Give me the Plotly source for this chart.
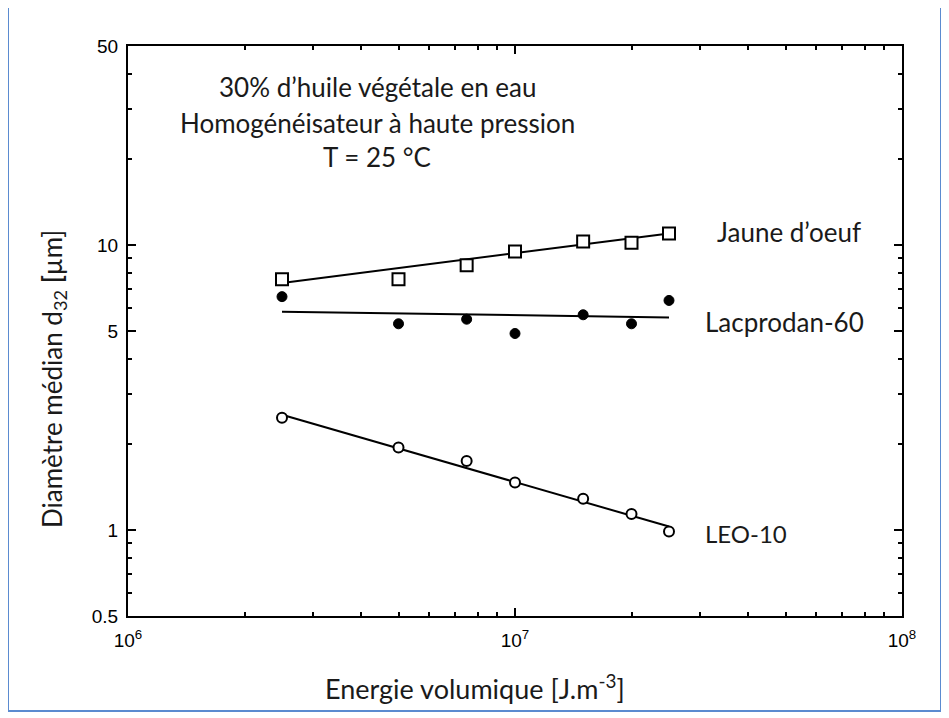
import plotly.graph_objects as go

# ---- data ----
energie = [2.5e6, 5e6, 7.5e6, 1e7, 1.5e7, 2e7, 2.5e7]
jaune = [7.6, 7.6, 8.5, 9.5, 10.3, 10.2, 11.0]
lacprodan = [6.6, 5.3, 5.5, 4.9, 5.7, 5.3, 6.4]
leo = [2.48, 1.95, 1.75, 1.47, 1.29, 1.14, 0.99]

fit_x = [2.5e6, 2.5e7]
jaune_fit = [7.37, 11.0]
lacprodan_fit = [5.84, 5.58]
leo_fit = [2.54, 1.03]

y_ticks = [0.5, 1, 5, 10, 50]
y_ticktext = ["0.5", "1", "5", "10", "50"]
x_ticks = [1e6, 1e7, 1e8]
x_ticktext = ["10<sup>6</sup>", "10<sup>7</sup>", "10<sup>8</sup>"]

title_lines = ["30% d’huile végétale en eau",
               "Homogénéisateur à haute pression",
               "T = 25 °C"]
series_labels = ["Jaune d’oeuf", "Lacprodan-60", "LEO-10"]

TXT = "Lato"
TXT_COLOR = "#1a1a1a"

fig = go.Figure()

line_style = dict(color="black", width=2)
for fy in (jaune_fit, lacprodan_fit, leo_fit):
    fig.add_trace(go.Scatter(x=fit_x, y=fy, mode="lines", line=line_style,
                             showlegend=False, hoverinfo="skip"))

fig.add_trace(go.Scatter(x=energie, y=jaune, mode="markers", showlegend=False,
                         marker=dict(symbol="square", size=12, color="white",
                                     line=dict(color="black", width=2))))
fig.add_trace(go.Scatter(x=energie, y=lacprodan, mode="markers", showlegend=False,
                         marker=dict(symbol="circle", size=10, color="black",
                                     line=dict(color="black", width=1))))
fig.add_trace(go.Scatter(x=energie, y=leo, mode="markers", showlegend=False,
                         marker=dict(symbol="circle", size=10, color="white",
                                     line=dict(color="black", width=2))))

# page has an 8px body margin; the figure is sized so the plot area lands
# at x 128..902, y 46..616 in the page
OFF = 8
PL, PR, PT, PB = 128, 902, 46, 616
W, H = 941, 710
L, T = PL - OFF, PT - OFF
R = W - (PR - OFF)
B = H - (PB - OFF)
pw, ph = PR - PL, PB - PT


def px(x):
    return (x - PL) / pw


def py(y):
    return (PB - y) / ph


annotations = []
for txt, yy in zip(title_lines, [87, 123, 157]):
    annotations.append(dict(text=txt, x=px(377), y=py(yy), xref="paper", yref="paper",
                            xanchor="center", yanchor="middle", showarrow=False,
                            font=dict(family=TXT, size=26, color=TXT_COLOR)))
for txt, xx, yy, sz in zip(series_labels, [715, 703, 703], [232, 322, 533], [26, 26, 24]):
    annotations.append(dict(text=txt, x=px(xx), y=py(yy), xref="paper", yref="paper",
                            xanchor="left", yanchor="middle", showarrow=False,
                            font=dict(family=TXT, size=sz, color=TXT_COLOR)))
annotations.append(dict(text="Energie volumique [J.m<sup>-3</sup>]", x=px(475), y=py(687),
                        xref="paper", yref="paper", xanchor="center", yanchor="middle",
                        showarrow=False, font=dict(family=TXT, size=27, color=TXT_COLOR)))
annotations.append(dict(text="Diamètre médian d<sub>32</sub> <b>[</b>µm]", x=px(53), y=py(379),
                        xref="paper", yref="paper", xanchor="center", yanchor="middle",
                        textangle=-90, showarrow=False,
                        font=dict(family=TXT, size=26, color=TXT_COLOR)))

fig.update_layout(
    width=W, height=H,
    margin=dict(l=L, r=R, t=T, b=B),
    paper_bgcolor="white", plot_bgcolor="white",
    annotations=annotations,
    shapes=[dict(type="rect", xref="paper", yref="paper",
                 x0=px(8), x1=px(941), y0=py(711), y1=py(6),
                 line=dict(color="#5b8bd0", width=2), fillcolor="rgba(0,0,0,0)",
                 layer="below")],
)

axis_common = dict(showline=True, linecolor="black", linewidth=2, mirror="allticks",
                   ticks="inside", ticklen=8, tickwidth=2, tickcolor="black",
                   showgrid=False, zeroline=False,
                   tickfont=dict(family="Liberation Sans", size=19, color="#000000"))

fig.update_xaxes(type="log", range=[6, 8], tickvals=x_ticks, ticktext=x_ticktext,
                 ticklabelstandoff=6,
                 minor=dict(ticks="inside", ticklen=4, tickwidth=1.5, tickcolor="black",
                            showgrid=False,
                            tickvals=[m * 10 ** e for e in (6, 7) for m in range(2, 10)]),
                 **axis_common)
fig.update_yaxes(type="log", range=[-0.30103, 1.69897], tickvals=y_ticks, ticktext=y_ticktext,
                 ticklabelstandoff=4,
                 minor=dict(ticks="inside", ticklen=4, tickwidth=1.5, tickcolor="black",
                            showgrid=False,
                            tickvals=[m * 10 ** e for e in (-1, 0, 1) for m in range(2, 10)
                                      if 0.5 < m * 10 ** e < 50 and m * 10 ** e not in (1, 5, 10)]),
                 **axis_common)

fig.write_html("out.html")
